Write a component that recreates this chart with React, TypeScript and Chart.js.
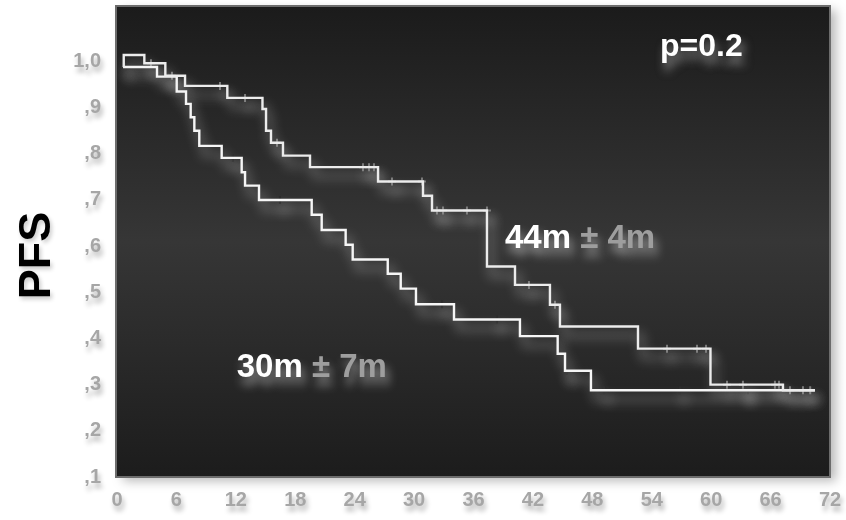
import { useEffect, useRef } from 'react';
import { Chart, registerables } from 'chart.js';

Chart.register(...registerables);

// Curve "44m ± 4m" (upper curve), KM steps: time of change, value after change
const curveATimes = [0.68, 0.68, 2.76, 4.88, 6.87, 11.14, 14.69, 15.05, 15.55, 16.76, 19.49, 26.36, 30.9, 31.81, 37.36, 40.19, 43.72, 44.73, 52.61, 59.93, 67.25, 70.48];
const curveAValues = [0.988, 1.014, 0.996, 0.969, 0.947, 0.921, 0.897, 0.85, 0.824, 0.796, 0.771, 0.74, 0.709, 0.677, 0.556, 0.516, 0.473, 0.426, 0.378, 0.3, 0.288, 0.288];

// Curve "30m ± 7m" (lower curve)
const curveBTimes = [0.61, 4.04, 6.03, 6.97, 7.44, 7.81, 8.31, 10.57, 12.59, 12.93, 14.34, 19.66, 20.67, 23.09, 23.8, 27.34, 28.65, 30.19, 34.03, 40.69, 44.5, 45.24, 47.86, 70.48];
const curveBValues = [0.988, 0.967, 0.935, 0.908, 0.879, 0.85, 0.817, 0.791, 0.76, 0.731, 0.7, 0.668, 0.635, 0.603, 0.571, 0.54, 0.508, 0.474, 0.441, 0.405, 0.367, 0.33, 0.288, 0.288];

// Censored observations
const censorATimes = [3.43, 5.55, 10.4, 12.93, 16.16, 24.84, 25.45, 25.95, 27.77, 30.8, 32.31, 32.92, 35.34, 37.36, 41.6, 44.23, 55.54, 58.57, 59.48, 61.6, 63.21, 66.44, 66.85, 67.96, 69.27, 70.0];
const censorAValues = [0.996, 0.969, 0.947, 0.921, 0.824, 0.771, 0.771, 0.771, 0.74, 0.74, 0.677, 0.677, 0.677, 0.677, 0.516, 0.473, 0.378, 0.378, 0.378, 0.3, 0.3, 0.3, 0.3, 0.288, 0.288, 0.288];
const censorBTimes = [0.81, 5.15, 11.71, 16.46, 32.82, 38.37, 45.44, 49.18, 56.85, 63.41, 63.71];
const censorBValues = [0.988, 0.967, 0.791, 0.7, 0.474, 0.441, 0.33, 0.288, 0.288, 0.288, 0.288];

// Axes
const xTickValues = [0, 6, 12, 18, 24, 30, 36, 42, 48, 54, 60, 66, 72];
const yTickValues = [0.1, 0.2, 0.3, 0.4, 0.5, 0.6, 0.7, 0.8, 0.9, 1.0];
const yTickLabels = [',1', ',2', ',3', ',4', ',5', ',6', ',7', ',8', ',9', '1,0'];
const yAxisTitle = 'PFS';

// Annotations
const labelA = { main: '44m', rest: ' ± 4m', x: 39.18, y: 0.595 };
const labelB = { main: '30m', rest: ' ± 7m', x: 12.09, y: 0.317 };
const pLabel = { text: 'p=0.2', x: 54.83, y: 1.012 };

const FONT = '"Liberation Sans", Arial, Helvetica, sans-serif';

const toPoints = (xs: number[], ys: number[]) => xs.map((x, i) => ({ x, y: ys[i] }));

export default function App() {
  const ref = useRef<HTMLCanvasElement | null>(null);

  useEffect(() => {
    const canvas = ref.current;
    if (!canvas) return;

    const decor = {
      id: 'decor',
      beforeDraw(chart: any) {
        const { ctx, chartArea: a } = chart;
        ctx.save();
        ctx.fillStyle = '#ffffff';
        ctx.fillRect(0, 0, chart.width, chart.height);
        ctx.shadowColor = 'rgba(0,0,0,0.28)';
        ctx.shadowBlur = 10;
        ctx.shadowOffsetX = 6;
        ctx.shadowOffsetY = 4;
        const g = ctx.createLinearGradient(0, a.top, 0, a.bottom);
        g.addColorStop(0, '#1b1b1b');
        g.addColorStop(0.5, '#363636');
        g.addColorStop(1, '#1c1c1c');
        ctx.fillStyle = g;
        ctx.fillRect(a.left, a.top, a.right - a.left, a.bottom - a.top);
        ctx.restore();
        // shadow for the tick labels drawn next by the scales
        ctx.shadowColor = 'rgba(0,0,0,0.3)';
        ctx.shadowBlur = 5;
        ctx.shadowOffsetX = 2;
        ctx.shadowOffsetY = 5;
      },
      beforeDatasetsDraw(chart: any) {
        const { ctx } = chart;
        ctx.shadowColor = 'rgba(235,235,235,0.6)';
        ctx.shadowBlur = 12;
        ctx.shadowOffsetX = 4;
        ctx.shadowOffsetY = 9;
      },
      afterDatasetsDraw(chart: any) {
        const { ctx } = chart;
        ctx.shadowColor = 'rgba(0,0,0,0)';
        ctx.shadowBlur = 0;
        ctx.shadowOffsetX = 0;
        ctx.shadowOffsetY = 0;
      },
      afterDraw(chart: any) {
        const { ctx, chartArea: a, scales } = chart;
        const xs = scales.x;
        const ys = scales.y;
        ctx.save();
        ctx.shadowColor = 'rgba(0,0,0,0)';
        ctx.strokeStyle = '#6c6c6c';
        ctx.lineWidth = 2;
        ctx.strokeRect(a.left - 1, a.top, a.right - a.left + 1, a.bottom - a.top);

        // y axis title
        ctx.save();
        ctx.translate(38, (a.top + a.bottom) / 2 + 14);
        ctx.rotate(-Math.PI / 2);
        ctx.fillStyle = '#000000';
        ctx.font = `bold 45px ${FONT}`;
        ctx.textAlign = 'center';
        ctx.textBaseline = 'middle';
        ctx.shadowColor = 'rgba(0,0,0,0.2)';
        ctx.shadowBlur = 4;
        ctx.shadowOffsetX = 2;
        ctx.shadowOffsetY = 3;
        ctx.fillText(yAxisTitle, 0, 0);
        ctx.restore();

        const drawPair = (lab: { main: string; rest: string; x: number; y: number }) => {
          ctx.save();
          ctx.font = `bold 33px ${FONT}`;
          ctx.textBaseline = 'alphabetic';
          ctx.textAlign = 'left';
          ctx.shadowColor = 'rgba(235,235,235,0.55)';
          ctx.shadowBlur = 10;
          ctx.shadowOffsetX = 3;
          ctx.shadowOffsetY = 8;
          const px = xs.getPixelForValue(lab.x);
          const py = ys.getPixelForValue(lab.y);
          ctx.fillStyle = '#ffffff';
          ctx.fillText(lab.main, px, py);
          const w = ctx.measureText(lab.main).width;
          ctx.fillStyle = '#9e9e9e';
          ctx.fillText(lab.rest, px + w, py);
          ctx.restore();
        };
        drawPair(labelA);
        drawPair(labelB);

        ctx.save();
        ctx.font = `bold 32px ${FONT}`;
        ctx.textBaseline = 'alphabetic';
        ctx.textAlign = 'left';
        ctx.shadowColor = 'rgba(235,235,235,0.5)';
        ctx.shadowBlur = 10;
        ctx.shadowOffsetX = 3;
        ctx.shadowOffsetY = 8;
        ctx.fillStyle = '#ffffff';
        ctx.fillText(pLabel.text, xs.getPixelForValue(pLabel.x), ys.getPixelForValue(pLabel.y));
        ctx.restore();

        ctx.restore();
      },
    };

    const chart = new Chart(canvas, {
      type: 'line',
      data: {
        datasets: [
          {
            label: 'A',
            data: toPoints(curveATimes, curveAValues),
            stepped: true,
            borderColor: '#ececec',
            borderWidth: 2.4,
            pointRadius: 0,
            fill: false,
          },
          {
            label: 'B',
            data: toPoints(curveBTimes, curveBValues),
            stepped: true,
            borderColor: '#f6f6f6',
            borderWidth: 2.4,
            pointRadius: 0,
            fill: false,
          },
          {
            label: 'censorA',
            data: toPoints(censorATimes, censorAValues),
            showLine: false,
            pointStyle: 'cross',
            pointRadius: 4,
            pointBorderWidth: 2,
            pointBorderColor: '#7a7a7a',
            borderColor: '#7a7a7a',
          },
          {
            label: 'censorB',
            data: toPoints(censorBTimes, censorBValues),
            showLine: false,
            pointStyle: 'cross',
            pointRadius: 4,
            pointBorderWidth: 2,
            pointBorderColor: '#2a2a2a',
            borderColor: '#2a2a2a',
          },
        ],
      },
      options: {
        responsive: false,
        animation: false,
        events: [],
        layout: { padding: { left: 0, top: 5, right: 16, bottom: 0 } },
        plugins: { legend: { display: false }, tooltip: { enabled: false } },
        scales: {
          x: {
            type: 'linear',
            min: 0,
            max: 72,
            grid: { display: false, drawTicks: false },
            border: { display: false },
            afterBuildTicks: (s: any) => {
              s.ticks = xTickValues.map((v) => ({ value: v }));
            },
            afterFit: (s: any) => {
              s.height = 43;
              s.paddingLeft = 0;
              s.paddingRight = 0;
              s.paddingTop = 0;
              s.paddingBottom = 0;
            },
            ticks: {
              color: '#a6a6a6',
              font: { family: FONT, size: 20, weight: 'bold' },
              padding: 11,
              maxRotation: 0,
              autoSkip: false,
              callback: (v: any) => String(v),
            },
          },
          y: {
            type: 'linear',
            min: 0.1,
            max: 1.12,
            grid: { display: false, drawTicks: false },
            border: { display: false },
            afterBuildTicks: (s: any) => {
              s.ticks = yTickValues.map((v) => ({ value: v }));
            },
            afterFit: (s: any) => {
              s.width = 117;
              s.paddingLeft = 0;
              s.paddingRight = 0;
              s.paddingTop = 0;
              s.paddingBottom = 0;
            },
            ticks: {
              color: '#a6a6a6',
              font: { family: FONT, size: 20, weight: 'bold' },
              padding: 16,
              autoSkip: false,
              callback: (_v: any, i: number) => yTickLabels[i],
            },
          },
        },
      },
      plugins: [decor],
    } as any);

    return () => chart.destroy();
  }, []);

  return (
    <div style={{ position: 'fixed', left: 0, top: 0, width: 846, height: 520, background: '#ffffff' }}>
      <canvas ref={ref} width={846} height={520} style={{ display: 'block', width: 846, height: 520 }} />
    </div>
  );
}
